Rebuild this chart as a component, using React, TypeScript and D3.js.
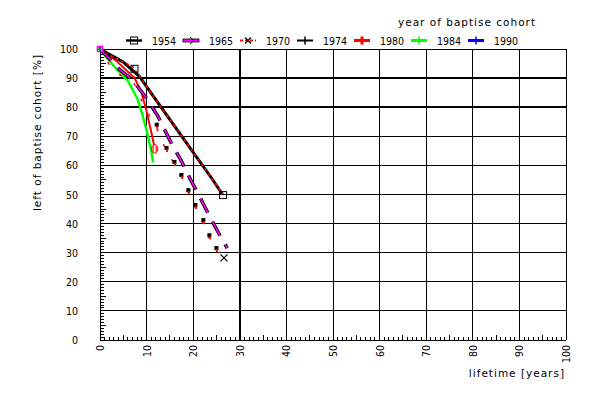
import React from "react";
import * as d3 from "d3";

// ---- data ----
const cohorts = ["1954", "1965", "1970", "1974", "1980", "1984", "1990"];
const xTicks = [0, 10, 20, 30, 40, 50, 60, 70, 80, 90, 100];
const yTicks = [0, 10, 20, 30, 40, 50, 60, 70, 80, 90, 100];

const life1954 = [0, 3, 5, 7, 8.5, 12, 16, 20, 24, 26.3];
const left1954 = [100, 97, 95.5, 94, 90.5, 82.5, 73.5, 64.5, 55.5, 50];
const mark1954 = [[7.4, 93.2], [26.4, 49.8]];

const life1965 = [0, 4.3, 7, 10, 12.4, 15.5, 17.3, 19.3, 21.3, 23.3, 25.3, 27.3];
const left1965 = [100, 92.8, 89.3, 83, 77, 67, 62, 55.5, 49.5, 43.2, 37.2, 31.6];

const life1970 = [0, 4, 8, 10.5, 12.5, 14.6, 16.3, 17.8, 19.3, 20.8, 22.5, 23.8, 25.3, 26.6];
const left1970 = [100, 92, 88, 79, 74, 66, 61.2, 56.7, 51.5, 46.4, 41.2, 36, 31.6, 28.2];

const life1974 = [0, 5, 8.5, 12, 16, 20, 24, 26.3];
const left1974 = [100, 95.5, 90.5, 82.5, 73.5, 64.5, 55.5, 50];

const life1980 = [0, 3, 7, 8.5, 9.5, 10.5, 11.3];
const left1980 = [100, 96, 90, 85, 79, 72, 66];

const life1984 = [0, 2.5, 6, 8, 9, 10, 11, 11.4];
const left1984 = [100, 95, 89, 83, 78, 72, 65, 61];

const life1990 = [0];
const left1990 = [100];

// ---- layout ----
const W = 600, H = 396;
const X0 = 100, X1 = 566, Y0 = 340, Y1 = 49;
const NUMFONT = "'DejaVu Sans Condensed', 'Liberation Sans Narrow', 'DejaVu Sans', sans-serif";
const WORDFONT = "'DejaVu Sans', sans-serif";

export default function App() {
  const x = d3.scaleLinear().domain([0, 100]).range([X0, X1]);
  const y = d3.scaleLinear().domain([0, 100]).range([Y0, Y1]);
  const line = (xs: number[], ys: number[]) =>
    d3.line<number>().x((_, i) => x(xs[i])).y((_, i) => y(ys[i]))(xs) || "";

  const minor = d3.range(0, 101, 1);
  const thickX = [30];
  const thickY = [80, 90];

  const legendX = [126, 183, 240, 297, 354, 411, 468];
  const legendColors = ["#ff0000", "#ff00ff", "#ff0000", "#000000", "#ff0000", "#00ff00", "#0000ff"];
  const LY = 40.5;

  const crossMark = (cx: number, cy: number, s: number, color: string, key: string) => (
    <g key={key} stroke={color} strokeWidth={1.2}>
      <line x1={cx - s} y1={cy - s} x2={cx + s} y2={cy + s} />
      <line x1={cx - s} y1={cy + s} x2={cx + s} y2={cy - s} />
    </g>
  );

  return (
    <svg width={W} height={H} style={{ position: "absolute", left: 0, top: 0, background: "#fff" }}
      fontFamily={NUMFONT}>
      <rect x={0} y={0} width={W} height={H} fill="#fff" />
      {/* grid */}
      <g stroke="#000" shapeRendering="crispEdges">
        {xTicks.map((t) => (
          <line key={"gx" + t} x1={x(t)} x2={x(t)} y1={Y1} y2={Y0} strokeWidth={thickX.includes(t) ? 2 : 1} />
        ))}
        {yTicks.map((t) => (
          <line key={"gy" + t} x1={X0} x2={X1} y1={y(t)} y2={y(t)} strokeWidth={thickY.includes(t) ? 2 : 1} />
        ))}
        {minor.map((t) => (
          <line key={"mx" + t} x1={x(t)} x2={x(t)} y1={Y0} y2={Y0 - (t % 5 === 0 ? 5 : 3)} strokeWidth={1} />
        ))}
        {minor.map((t) => (
          <line key={"my" + t} x1={X0} x2={X0 + (t % 5 === 0 ? 6 : 4)} y1={y(t)} y2={y(t)} strokeWidth={1} />
        ))}
      </g>
      {/* tick labels */}
      <g fontSize={10.5} fill="#000">
        {yTicks.map((t) => (
          <text key={"ly" + t} x={78} y={y(t) + 4} textAnchor="end">{t}</text>
        ))}
        {xTicks.map((t) => (
          <text key={"lx" + t} transform={`translate(${x(t) + 4},345) rotate(-90)`} textAnchor="end">{t}</text>
        ))}
      </g>
      <g fontFamily={WORDFONT} fontSize={10.5} letterSpacing={1}>
        <text x={565} y={377} textAnchor="end">lifetime [years]</text>
        <text transform="translate(41,54) rotate(-90)" textAnchor="end">left of baptise cohort [%]</text>
        <text x={398} y={26}>year of baptise cohort</text>
      </g>

      {/* series */}
      <g fill="none" strokeLinejoin="round">
        {/* 1984 green */}
        <path d={line(life1984, left1984)} stroke="#00ff00" strokeWidth={2.5} />
        {/* 1980 red */}
        <path d={line(life1980, left1980)} stroke="#ff0000" strokeWidth={2} transform="translate(2,0)" />
        {/* 1974 black */}
        <path d={line(life1974, left1974)} stroke="#000" strokeWidth={3} />
        {/* 1954 red dashed on black */}
        <path d={line(life1954, left1954)} stroke="#ff0000" strokeWidth={1.6} strokeDasharray="3,3" />
        <path d={line(life1954, left1954)} stroke="#00ffff" strokeWidth={1} strokeDasharray="1,17" transform="translate(2,0)" />
        {/* 1965 magenta dashed with black outline */}
        <path d={line(life1965, left1965)} stroke="#000" strokeWidth={3.5} strokeDasharray="16,10" />
        <path d={line(life1965, left1965)} stroke="#ff00ff" strokeWidth={1.6} strokeDasharray="16,10" />
        {/* 1970 red short dashes */}
        <path d={line(life1970, left1970)} stroke="#ff0000" strokeWidth={1.5} strokeDasharray="3,14" transform="translate(-3,0)" />
      </g>
      {/* markers */}
      <g>
        {life1970.slice(4, -1).map((v, i) => (
          <g key={"m70" + i}>
            <rect x={x(v) - 3.5} y={y(left1970[i + 4]) - 2} width={4} height={4} fill="#000" />
            <rect x={x(v) - 2} y={y(left1970[i + 4]) + 1} width={2} height={3} fill="#ff0000" />
          </g>
        ))}
        {crossMark(x(life1970[life1970.length - 1]), y(left1970[left1970.length - 1]), 3.5, "#000", "x70")}
        {mark1954.map((p, i) => (
          <rect key={"sq" + i} x={x(p[0]) - 3.5} y={y(p[1]) - 3.5} width={7} height={7} fill="none" stroke="#000" strokeWidth={1} />
        ))}
        <g stroke="#ff0000" strokeWidth={1} fill="#fff">
          <rect x={x(life1980[life1980.length - 1]) - 1} y={y(left1980[left1980.length - 1]) - 1} width={6} height={4} />
          <rect x={x(life1980[life1980.length - 1]) + 0.5} y={y(left1980[left1980.length - 1]) - 3} width={3} height={8} />
        </g>
        <rect x={x(life1990[0]) - 2.5} y={y(left1990[0]) - 2.5} width={5} height={5} fill="#00ff00" stroke="#ff00ff" strokeWidth={1.5} />
        <line x1={x(life1990[0])} x2={x(life1990[0])} y1={y(left1990[0]) - 2} y2={y(left1990[0]) + 2} stroke="#0000ff" />
      </g>

      {/* legend */}
      <g fontSize={10.5}>
        {cohorts.map((c, i) => {
          const lx = legendX[i];
          const cx = lx + 8;
          const col = legendColors[i];
          return (
            <g key={"lg" + c}>
              {i === 1 ? (
                <g>
                  <rect x={lx} y={LY - 1.5} width={16} height={3} fill="#ff00ff" stroke="#000" strokeWidth={0.8} />
                  <path d={`M${cx - 1},${LY - 3.5} L${cx + 3},${LY} L${cx - 1},${LY + 3.5}`} fill="none" stroke="#000" strokeWidth={1} />
                </g>
              ) : i === 2 ? (
                <g>
                  <line x1={lx} x2={lx + 16} y1={LY} y2={LY} stroke={col} strokeWidth={2} strokeDasharray="3,2" />
                  {crossMark(cx, LY, 3, "#000", "lx")}
                </g>
              ) : (
                <line x1={lx} x2={lx + 16} y1={LY} y2={LY} stroke={col} strokeWidth={i === 3 ? 2 : 3} />
              )}
              {i === 0 && (
                <g>
                  <rect x={cx - 3.5} y={LY - 3.5} width={7} height={7} fill="none" stroke="#000" />
                  <line x1={lx} x2={lx + 16} y1={LY} y2={LY} stroke="#000" strokeWidth={1} />
                </g>
              )}
              {i >= 3 && (
                <line x1={cx} x2={cx} y1={LY - 4} y2={LY + 4} stroke={col} strokeWidth={i === 4 ? 3 : 1.5} />
              )}
              <text x={lx + 26} y={LY + 4}>{c}</text>
            </g>
          );
        })}
      </g>
    </svg>
  );
}
